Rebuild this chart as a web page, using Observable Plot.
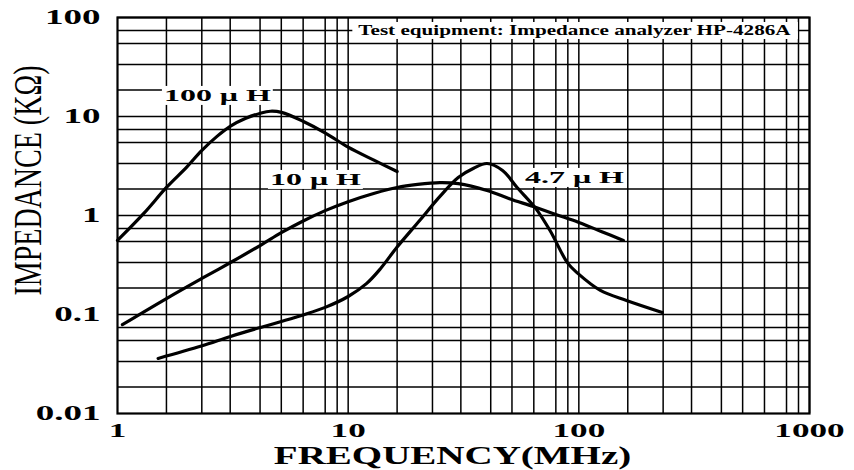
<!DOCTYPE html>
<html>
<head>
<meta charset="utf-8">
<script src="https://cdn.jsdelivr.net/npm/d3@7"></script>
<script src="https://cdn.jsdelivr.net/npm/@observablehq/plot@0.6"></script>
<style>
  html, body { margin: 0; padding: 0; background: #ffffff; }
  #chart svg { display: block; }
</style>
</head>
<body>
<div id="chart"></div>
<script>
// ---- Data ----
const seriesNames = ["100 μ H", "10 μ H", "4.7 μ H"];

const freq100uH = [1, 1.3, 1.63, 2.0, 2.31, 2.7, 3.09, 3.6, 4.17, 4.6, 5.14, 6.4, 7.97, 10, 13, 16.3];
const imp100uH  = [0.56, 1.05, 1.92, 3.1, 4.5, 6.3, 8.0, 9.6, 10.8, 11.3, 11.0, 8.9, 6.8, 4.9, 3.6, 2.78];

const freq10uH = [1.05, 1.63, 2.31, 3.09, 4.17, 5.13, 6.38, 7.95, 10, 13, 16.3, 20, 25, 30, 40, 50, 63.5, 80, 100, 125, 156];
const imp10uH  = [0.079, 0.145, 0.23, 0.335, 0.5, 0.67, 0.88, 1.12, 1.38, 1.68, 1.92, 2.06, 2.15, 2.1, 1.79, 1.48, 1.23, 1.02, 0.85, 0.69, 0.56];

const freq4p7uH = [1.5, 2.31, 3.09, 4.17, 5.13, 6.38, 7.95, 10, 12, 13.8, 16.3, 20.5, 25, 30, 35, 40, 46.7, 54, 65, 75, 89.5, 99, 124, 162, 230];
const imp4p7uH  = [0.036, 0.048, 0.06, 0.074, 0.085, 0.099, 0.118, 0.152, 0.205, 0.29, 0.48, 0.9, 1.56, 2.42, 3.0, 3.35, 2.85, 1.92, 1.18, 0.705, 0.33, 0.26, 0.175, 0.138, 0.105];

// Axis ticks and labels
const xTicks = [1, 10, 100, 1000];
const xTickLabels = ["1", "10", "100", "1000"];
const yTicks = [0.01, 0.1, 1, 10, 100];
const yTickLabels = ["0.01", "0.1", "1", "10", "100"];

// Grid lines of the printed chart paper (per-decade positions)
const xGridDecades = [1, 10, 100];
const xGridSteps = [1.63, 2.32, 3.08, 4.15, 5.13, 6.38, 7.95, 8.96, 10];
const yGridDecades = [0.01, 0.1, 1, 10];
const yGridSteps = [1.85, 3.35, 5.45, 7.4, 10];

// Curve labels (data-space anchor positions)
const labelFreq = [2.71, 7.21, 95.7];
const labelImp  = [16.3, 2.31, 2.42];

// Note
const noteText = "Test equipment: Impedance analyzer HP-4286A";
const noteFreq = [95.7];
const noteImp  = [73.9];

const xTitle = "FREQUENCY(MHz)";
const yTitle = "IMPEDANCE (KΩ)";

// ---- Build tables ----
const rows = [
  ...freq100uH.map((f, i) => ({name: seriesNames[0], f, z: imp100uH[i]})),
  ...freq10uH.map((f, i) => ({name: seriesNames[1], f, z: imp10uH[i]})),
  ...freq4p7uH.map((f, i) => ({name: seriesNames[2], f, z: imp4p7uH[i]}))
];
const xGrid = xGridDecades.flatMap(d => xGridSteps.map(s => d * s));
const yGrid = yGridDecades.flatMap(d => yGridSteps.map(s => d * s));
const labels = seriesNames.map((t, i) => ({t, f: labelFreq[i], z: labelImp[i]}));
const notes = [{t: noteText, f: noteFreq[0], z: noteImp[0]}];

const serif = "'Liberation Serif', 'Times New Roman', 'DejaVu Serif', serif";

const chart = Plot.plot({
  width: 854,
  height: 470,
  marginLeft: 117,
  marginRight: 45,
  marginTop: 17,
  marginBottom: 57,
  style: {fontFamily: serif, background: "#ffffff", color: "#000000", overflow: "visible"},
  x: {type: "log", domain: [1, 1000]},
  y: {type: "log", domain: [0.01, 100]},
  marks: [
    Plot.ruleX(xGrid, {stroke: "#000", strokeWidth: 1.5}),
    Plot.ruleY(yGrid, {stroke: "#000", strokeWidth: 1.5}),
    Plot.frame({stroke: "#000", strokeWidth: 2.2}),
    Plot.axisX({ticks: xTicks, tickFormat: d => xTickLabels[xTicks.indexOf(d)], tickSize: 0, tickPadding: 10,
      fontSize: 19, fontWeight: "bold", label: null}),
    Plot.axisY({ticks: yTicks, tickFormat: d => yTickLabels[yTicks.indexOf(d)], tickSize: 0, tickPadding: 17,
      fontSize: 20, fontWeight: "bold", label: null}),
    Plot.line(rows, {x: "f", y: "z", z: "name", curve: "catmull-rom", stroke: "#000", strokeWidth: 3.2,
      strokeLinejoin: "round", strokeLinecap: "round"}),
    Plot.text(labels, {x: "f", y: "z", text: "t", fontSize: 17, fontWeight: "bold", fill: "#000", className: "curve-label"}),
    Plot.text(notes, {x: "f", y: "z", text: "t", fontSize: 14, fontWeight: "bold", fill: "#000", className: "note-label"}),
    Plot.text([xTitle], {frameAnchor: "bottom", textAnchor: "middle", lineAnchor: "middle", dy: 42, dx: -11,
      fontSize: 26, fontWeight: "bold", fill: "#000", className: "x-title"}),
    Plot.text([yTitle], {frameAnchor: "left", textAnchor: "middle", lineAnchor: "middle", rotate: -90, dx: -89, dy: -35,
      fontSize: 40, fontWeight: "normal", fill: "#000", className: "y-title"})
  ]
});

document.getElementById("chart").append(chart);

// ---- Typographic adjustments: the source uses horizontally stretched lettering ----
const svg = d3.select(chart.tagName.toLowerCase() === "svg" ? chart : chart.querySelector("svg"));
function stretch(selection, k) {
  selection.each(function () {
    const L = this.getComputedTextLength();
    this.setAttribute("textLength", (L * k).toFixed(1));
    this.setAttribute("lengthAdjust", "spacingAndGlyphs");
  });
}
function whiteBox(selection, padX, padY) {
  selection.each(function () {
    const b = this.getBBox();
    const r = document.createElementNS("http://www.w3.org/2000/svg", "rect");
    r.setAttribute("x", b.x - padX);
    r.setAttribute("y", b.y - padY);
    r.setAttribute("width", b.width + 2 * padX);
    r.setAttribute("height", b.height + 2 * padY);
    r.setAttribute("fill", "#ffffff");
    const t = this.getAttribute("transform");
    if (t) r.setAttribute("transform", t);
    this.parentNode.insertBefore(r, this);
  });
}
svg.selectAll("text").each(function () {
  const s = this.textContent;
  if (xTickLabels.includes(s) || yTickLabels.includes(s)) stretch(d3.select(this), 1.85);
});
stretch(svg.selectAll(".curve-label text"), 1.88);
stretch(svg.selectAll(".note-label text"), 1.51);
stretch(svg.selectAll(".x-title text"), 1.5);
stretch(svg.selectAll(".y-title text"), 0.7);
whiteBox(svg.selectAll(".curve-label text"), 2, 0);
whiteBox(svg.selectAll(".note-label text"), 6, 1);
</script>
</body>
</html>
